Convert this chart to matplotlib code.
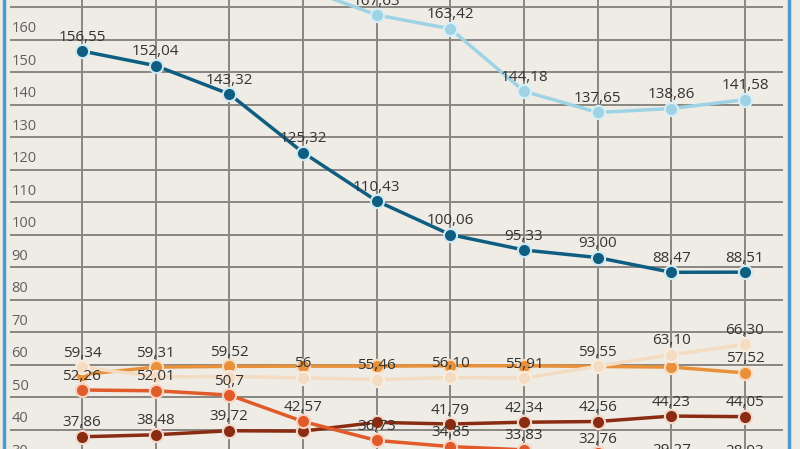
import matplotlib
matplotlib.use("Agg")
import matplotlib.pyplot as plt
from matplotlib.lines import Line2D
from matplotlib.transforms import blended_transform_factory

plt.rcParams["font.family"] = ["Open Sans", "DejaVu Sans"]

# ------------------------------------------------------------
# data (None = no visible label)
# ------------------------------------------------------------
idx = list(range(10))

lightblue_vals = [185, 182, 180, 176, 167.63, 163.42, 144.18, 137.65, 138.86, 141.58]
lightblue_lbls = [None, None, None, None, "167,63", "163,42", "144,18", "137,65", "138,86", "141,58"]

darkblue_vals = [156.55, 152.04, 143.32, 125.32, 110.43, 100.06, 95.33, 93.00, 88.47, 88.51]
darkblue_lbls = ["156,55", "152,04", "143,32", "125,32", "110,43", "100,06", "95,33", "93,00", "88,47", "88,51"]

brown_vals = [37.86, 38.48, 39.72, 39.6, 42.3, 41.79, 42.34, 42.56, 44.23, 44.05]
brown_lbls = ["37,86", "38,48", "39,72", None, None, "41,79", "42,34", "42,56", "44,23", "44,05"]

orange_vals = [57.0, 59.31, 59.52, 59.6, 59.6, 59.7, 59.7, 59.5, 59.3, 57.52]
orange_lbls = [None, "59,31", "59,52", None, None, None, None, None, None, "57,52"]

peach_vals = [59.34, 56.3, 56.4, 56, 55.46, 56.10, 55.91, 59.55, 63.10, 66.30]
peach_lbls = ["59,34", None, None, "56", "55,46", "56,10", "55,91", "59,55", "63,10", "66,30"]

red_vals = [52.26, 52.01, 50.7, 42.57, 36.73, 34.85, 33.83, 32.76, 29.27, 28.93]
red_lbls = ["52,26", "52,01", "50,7", "42,57", "36,73", "34,85", "33,83", "32,76", "29,27", "28,93"]

yticks = [30, 40, 50, 60, 70, 80, 90, 100, 110, 120, 130, 140, 150, 160, 170]

BG = "#efece6"
GRID = "#8a8782"

fig = plt.figure(figsize=(8, 4.49), dpi=100, facecolor=BG)
ax = fig.add_axes([10 / 800, 0, 773 / 800, 1])
ax.set_facecolor(BG)

ax.set_xlim(-0.977, 9.516)
ax.set_ylim(34.1, 172.25)
for s in ax.spines.values():
    s.set_visible(False)
ax.set_xticks([])
ax.set_yticks([])

# grid
for v in yticks:
    ax.axhline(v, color=GRID, lw=1.4, zorder=1)
for i in idx:
    ax.axvline(i, color=GRID, lw=1.4, zorder=1)

# y labels sit on top of their gridlines, inside the plot
trans = blended_transform_factory(ax.transAxes, ax.transData)
for v in yticks:
    ax.annotate(str(v), (0.002, v), xycoords=trans, xytext=(0, 2.5),
                textcoords="offset points", ha="left", va="bottom",
                fontsize=10.5, color="#606060", zorder=2, annotation_clip=False)

series = [
    (lightblue_vals, lightblue_lbls, "#9dd3e4", "#d6eef5"),
    (darkblue_vals, darkblue_lbls, "#0f5e82", "#cfe9f3"),
    (brown_vals, brown_lbls, "#8a2c12", "#f2d9cc"),
    (orange_vals, orange_lbls, "#e8913a", "#f7dcc0"),
    (peach_vals, peach_lbls, "#f3dcc2", "#f8ece0"),
    (red_vals, red_lbls, "#e05a2a", "#f6d3c4"),
]

z = 3
for vals, lbls, col, edge in series:
    ax.plot(idx, vals, color=col, lw=2.5, marker="o", markersize=9.5,
            markerfacecolor=col, markeredgecolor=edge, markeredgewidth=1.5,
            zorder=z, clip_on=True)
    z += 1

for vals, lbls, col, edge in series:
    for i, (v, t) in enumerate(zip(vals, lbls)):
        if t is None:
            continue
        ax.annotate(t, (i, v), xytext=(0, 10), textcoords="offset points",
                    ha="center", va="center", fontsize=11, color="#333333",
                    zorder=20, annotation_clip=False)

# blue frame lines at the left and right edge
fig.add_artist(Line2D([4 / 800, 4 / 800], [0, 1], color="#4a9ad0", lw=2.5))
fig.add_artist(Line2D([789 / 800, 789 / 800], [0, 1], color="#4a9ad0", lw=2.5))

fig.savefig("out.png", dpi=100, facecolor=BG)
